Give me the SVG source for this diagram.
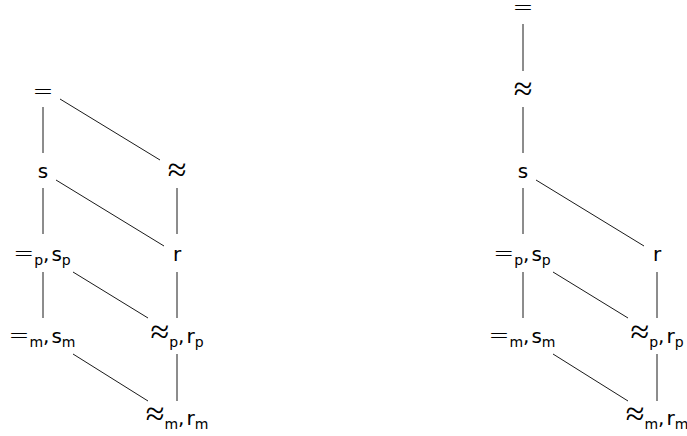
<svg xmlns="http://www.w3.org/2000/svg" width="687" height="436" viewBox="0 0 687 436">
<style>
text{font-family:"DejaVu Sans",sans-serif;font-size:20px;fill:#000;text-anchor:middle}
.sub{font-size:14px}
.sym{font-family:"DejaVu Sans",sans-serif;font-weight:200;font-size:25px}
.apx{font-family:"Liberation Serif",serif;font-size:34px}
line{stroke:#000;stroke-width:0.9}
</style>
<rect width="687" height="436" fill="#fff"/>
<g id="connectors">
<line x1="43" y1="107" x2="43" y2="153"/>
<line x1="60" y1="99" x2="160" y2="160"/>
<line x1="177" y1="188" x2="177" y2="234"/>
<line x1="56" y1="180" x2="164" y2="246"/>
<line x1="43" y1="188" x2="43" y2="234"/>
<line x1="43" y1="272" x2="43" y2="318"/>
<line x1="73" y1="272" x2="148" y2="318"/>
<line x1="177" y1="272" x2="177" y2="318"/>
<line x1="73" y1="354" x2="148" y2="401"/>
<line x1="177" y1="354" x2="177" y2="401"/>
<line x1="523" y1="24" x2="523" y2="71"/>
<line x1="523" y1="107" x2="523" y2="153"/>
<line x1="536" y1="180" x2="644" y2="246"/>
<line x1="523" y1="188" x2="523" y2="234"/>
<line x1="523" y1="272" x2="523" y2="318"/>
<line x1="553" y1="272" x2="628" y2="318"/>
<line x1="657" y1="272" x2="657" y2="318"/>
<line x1="553" y1="354" x2="628" y2="401"/>
<line x1="657" y1="354" x2="657" y2="401"/>
</g>
<g id="L-eq"><text class="sym" x="43" y="99">=</text></g>
<g id="L-s"><text x="43" y="178">s</text></g>
<g id="L-approx"><text class="apx" x="177" y="181">≈</text></g>
<g id="L-r"><text x="177" y="261">r</text></g>
<g id="L-eqp"><text x="42" y="261"><tspan class="sym">=</tspan><tspan class="sub" dy="4">p</tspan><tspan dy="-4">,</tspan><tspan dx="2">s</tspan><tspan class="sub" dy="4">p</tspan></text></g>
<g id="L-eqm"><text x="42" y="343"><tspan class="sym">=</tspan><tspan class="sub" dy="4">m</tspan><tspan dy="-4">,</tspan><tspan dx="2">s</tspan><tspan class="sub" dy="4">m</tspan></text></g>
<g id="L-approxp"><text x="177" y="343"><tspan class="apx">≈</tspan><tspan class="sub" dy="4">p</tspan><tspan dy="-4">,</tspan><tspan dx="2">r</tspan><tspan class="sub" dy="4">p</tspan></text></g>
<g id="L-approxm"><text x="177" y="425"><tspan class="apx">≈</tspan><tspan class="sub" dy="4">m</tspan><tspan dy="-4">,</tspan><tspan dx="2">r</tspan><tspan class="sub" dy="4">m</tspan></text></g>
<g id="R-eq"><text class="sym" x="523" y="15">=</text></g>
<g id="R-approx"><text class="apx" x="523" y="100">≈</text></g>
<g id="R-s"><text x="523" y="178">s</text></g>
<g id="R-r"><text x="657" y="261">r</text></g>
<g id="R-eqp"><text x="522" y="261"><tspan class="sym">=</tspan><tspan class="sub" dy="4">p</tspan><tspan dy="-4">,</tspan><tspan dx="2">s</tspan><tspan class="sub" dy="4">p</tspan></text></g>
<g id="R-eqm"><text x="522" y="343"><tspan class="sym">=</tspan><tspan class="sub" dy="4">m</tspan><tspan dy="-4">,</tspan><tspan dx="2">s</tspan><tspan class="sub" dy="4">m</tspan></text></g>
<g id="R-approxp"><text x="657" y="343"><tspan class="apx">≈</tspan><tspan class="sub" dy="4">p</tspan><tspan dy="-4">,</tspan><tspan dx="2">r</tspan><tspan class="sub" dy="4">p</tspan></text></g>
<g id="R-approxm"><text x="657" y="425"><tspan class="apx">≈</tspan><tspan class="sub" dy="4">m</tspan><tspan dy="-4">,</tspan><tspan dx="2">r</tspan><tspan class="sub" dy="4">m</tspan></text></g>
</svg>
